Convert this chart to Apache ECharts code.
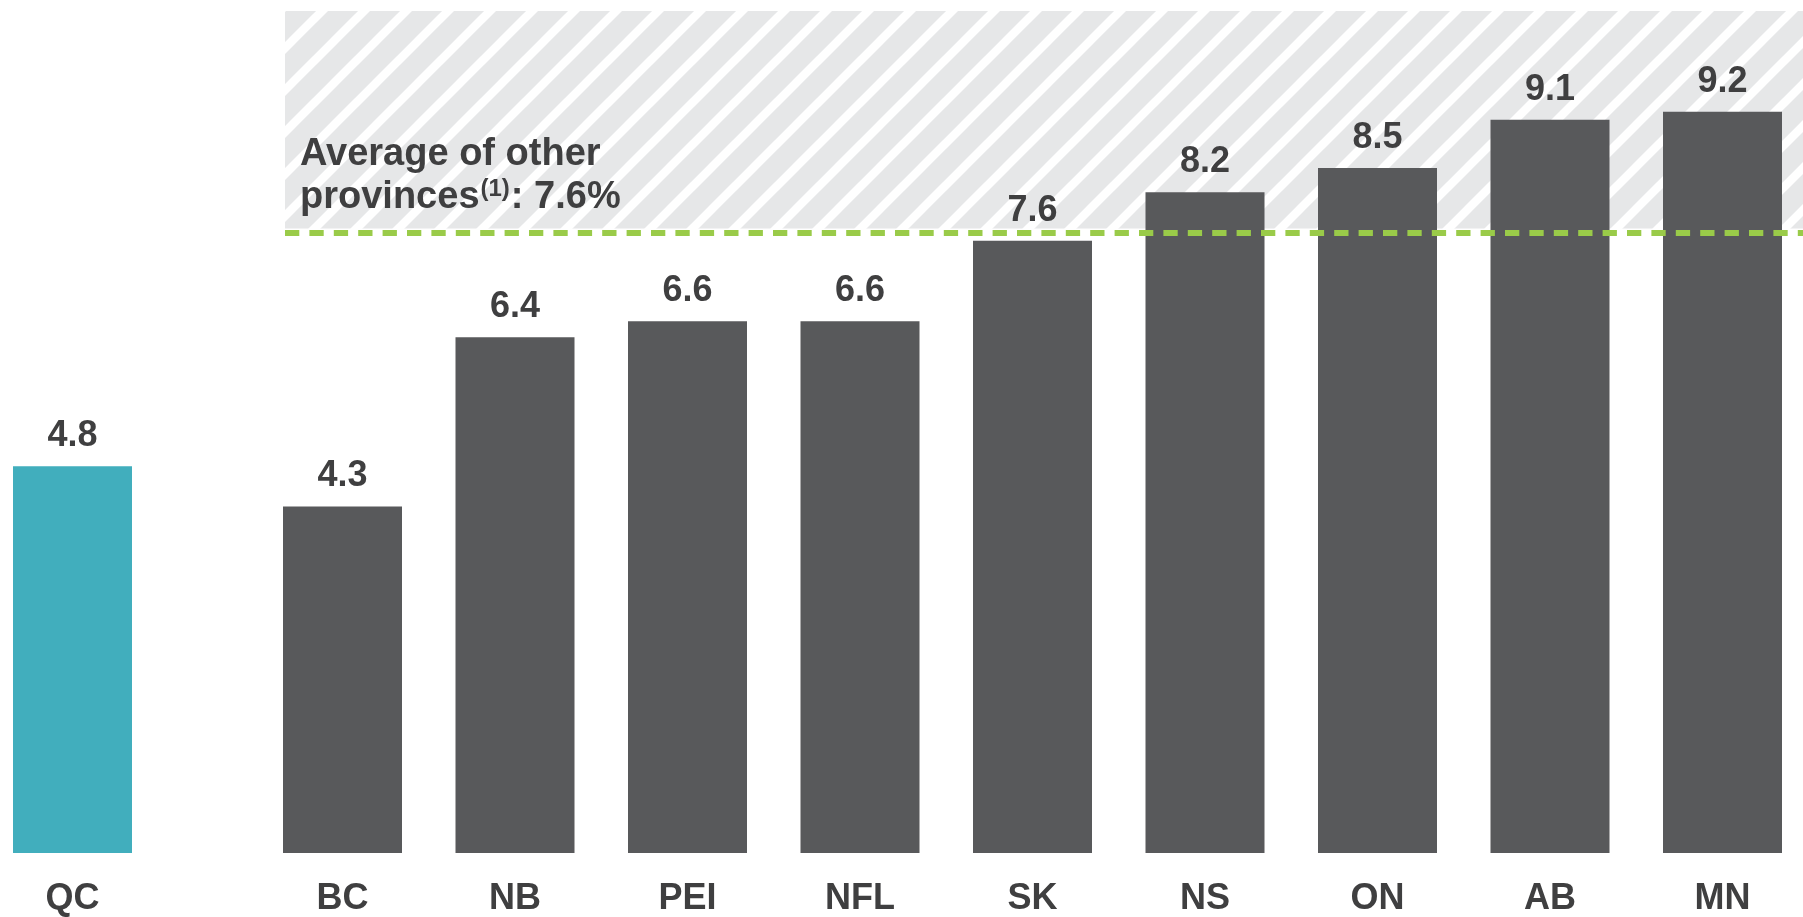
<!DOCTYPE html>
<html><head><meta charset="utf-8">
<script src="https://cdn.jsdelivr.net/npm/echarts@6/dist/echarts.min.js"></script>
<style>html,body{margin:0;padding:0;background:#fff;overflow:hidden}#c{width:1812px;height:917px}</style>
</head><body><div id="c"></div>
<script>
// ---- data ----
const qcCategories = ['QC'];
const qcValues = [4.8];
const provinceCategories = ['BC', 'NB', 'PEI', 'NFL', 'SK', 'NS', 'ON', 'AB', 'MN'];
const provinceValues = [4.3, 6.4, 6.6, 6.6, 7.6, 8.2, 8.5, 9.1, 9.2];
const averageOther = 7.6;          // value stated in the annotation
const averageLineLevel = 7.7;      // level at which the dashed line is drawn in the picture
const hatchBottom = 7.75;
const yMax = 10.45;

// ---- styles ----
const FONT = "'Liberation Sans Narrow', 'Arial Narrow', 'Liberation Sans', sans-serif";
const TEXT = '#3f3f40';

function hatchPattern() {
  const P = 42, c = document.createElement('canvas');
  c.width = P; c.height = P;
  const g = c.getContext('2d');
  g.fillStyle = '#e6e7e8'; g.fillRect(0, 0, P, P);
  g.strokeStyle = '#ffffff'; g.lineWidth = 8.4;
  const phase = 39;
  for (let k = -2; k <= 3; k++) {
    const s = phase + (k - 1) * P; // lines x + y = s
    g.beginPath(); g.moveTo(s + 10, -10); g.lineTo(s - P - 10, P + 10); g.stroke();
  }
  return c;
}

const chart = echarts.init(document.getElementById('c'), null, { renderer: 'canvas' });
const axisLabel = { fontSize: 36, fontWeight: 'bold', color: TEXT, fontFamily: FONT, margin: 28 };
const valueLabel = { show: true, position: 'top', distance: 12, fontSize: 36, fontWeight: 'bold', color: TEXT, fontFamily: FONT };

chart.setOption({
  animation: false,
  backgroundColor: '#ffffff',
  grid: [
    { left: 0, width: 145, top: 11, bottom: 64 },
    { left: 256.25, width: 1552.5, top: 11, bottom: 64 }
  ],
  xAxis: [
    { type: 'category', gridIndex: 0, data: qcCategories, axisLine: { show: false }, axisTick: { show: false }, axisLabel },
    { type: 'category', gridIndex: 1, data: provinceCategories, axisLine: { show: false }, axisTick: { show: false }, axisLabel }
  ],
  yAxis: [
    { type: 'value', gridIndex: 0, min: 0, max: yMax, show: false },
    { type: 'value', gridIndex: 1, min: 0, max: yMax, show: false }
  ],
  series: [
    {
      type: 'bar', xAxisIndex: 0, yAxisIndex: 0, data: qcValues, barWidth: 119,
      itemStyle: { color: '#41aebd' }, label: valueLabel, z: 3
    },
    {
      type: 'bar', xAxisIndex: 1, yAxisIndex: 1, data: provinceValues, barWidth: 119,
      itemStyle: { color: '#58595b' }, label: valueLabel, z: 3,
      markArea: {
        silent: true, z: 1,
        itemStyle: { color: { image: hatchPattern(), repeat: 'repeat' } },
        data: [[{ x: 285, yAxis: hatchBottom }, { x: '100%', yAxis: yMax }]]
      },
      markLine: {
        silent: true, symbol: 'none', z: 4,
        lineStyle: { color: '#9acb49', width: 6, type: [14.3, 10.1], cap: 'butt' },
        label: {
          show: true, position: 'insideStartTop', distance: [15, 14],
          formatter: '{a|Average of other}\n{a|provinces}{s|(1)}{a|: ' + averageOther + '%}',
          rich: {
            a: { fontSize: 38, fontWeight: 'bold', lineHeight: 43, color: TEXT, fontFamily: FONT },
            s: { fontSize: 24, fontWeight: 'bold', lineHeight: 24, verticalAlign: 'top', padding: [2, 1, 0, 1], color: TEXT, fontFamily: FONT }
          }
        },
        data: [[{ x: 285, yAxis: averageLineLevel }, { x: '100%', yAxis: averageLineLevel }]]
      }
    }
  ]
});
</script>
</body></html>
